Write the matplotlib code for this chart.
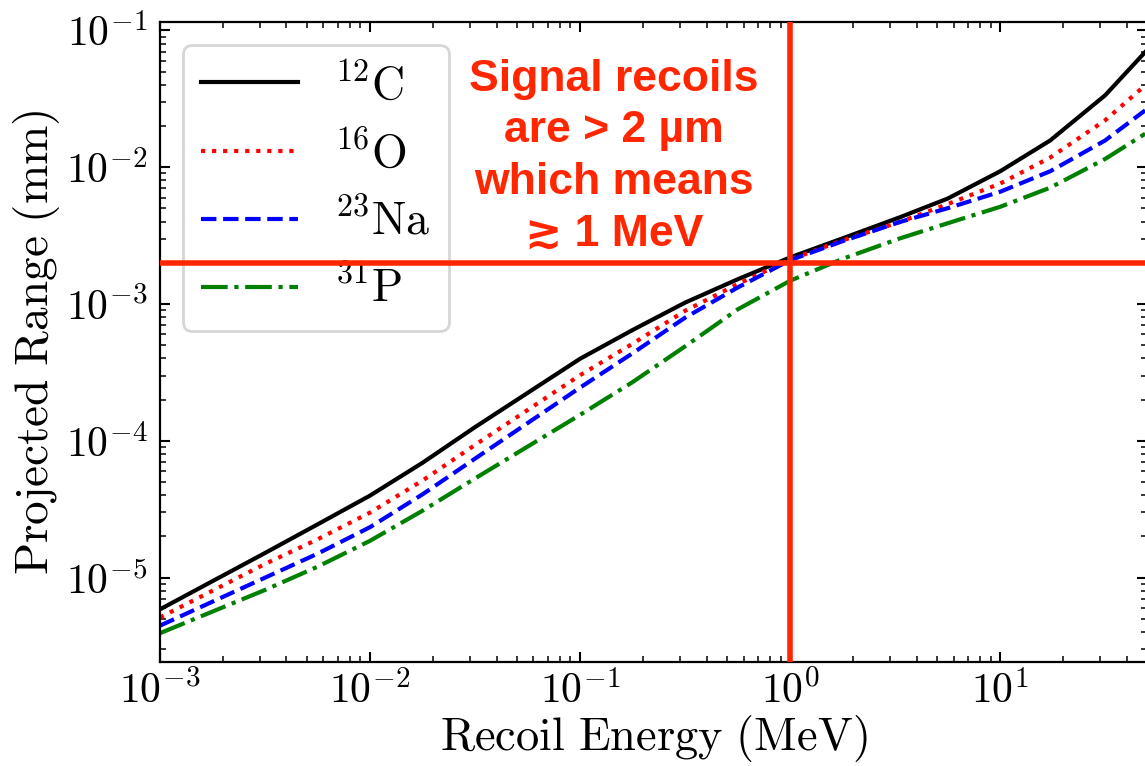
import matplotlib
matplotlib.use("Agg")
import matplotlib.pyplot as plt
from matplotlib.ticker import LogLocator, NullFormatter, FuncFormatter
import numpy as np

plt.rcParams['mathtext.fontset'] = 'cm'

# recoil energy (MeV) and projected range (mm)
energy = [0.001, 0.00316, 0.00562, 0.01, 0.0178, 0.0316, 0.1, 0.178, 0.316, 0.562,
          1.0, 1.78, 3.34, 5.62, 10.0, 17.3, 31.6, 49.0]
range_C = [5.87e-6, 1.514e-5, 2.45e-5, 3.98e-5, 6.92e-5, 1.259e-4, 3.98e-4, 6.46e-4,
           1.023e-3, 1.514e-3, 2.19e-3, 3.02e-3, 4.31e-3, 5.89e-3, 9.33e-3, 1.567e-2,
           3.35e-2, 6.93e-2]
range_O = [5.12e-6, 1.259e-5, 1.905e-5, 2.99e-5, 5.13e-5, 9.33e-5, 3.02e-4, 5.13e-4,
           8.91e-4, 1.396e-3, 2.11e-3, 2.92e-3, 3.98e-3, 5.37e-3, 7.59e-3, 1.175e-2,
           2.20e-2, 3.96e-2]
range_Na = [4.46e-6, 1.0e-5, 1.496e-5, 2.34e-5, 4.07e-5, 7.41e-5, 2.45e-4, 4.37e-4,
            7.94e-4, 1.318e-3, 2.09e-3, 2.88e-3, 3.98e-3, 5.01e-3, 6.61e-3, 9.33e-3,
            1.567e-2, 2.60e-2]
range_P = [3.93e-6, 8.13e-6, 1.202e-5, 1.86e-5, 3.09e-5, 5.31e-5, 1.549e-4, 2.69e-4,
           4.90e-4, 9.12e-4, 1.479e-3, 2.14e-3, 3.02e-3, 3.89e-3, 5.13e-3, 7.08e-3,
           1.148e-2, 1.754e-2]

labels = [r'$^{12}\mathrm{C}$', r'$^{16}\mathrm{O}$', r'$^{23}\mathrm{Na}$', r'$^{31}\mathrm{P}$']
cut_range = 2e-3   # mm
cut_energy = 1.0   # MeV
red = '#FF2600'

fig = plt.figure(figsize=(11.45, 7.66), dpi=100)
ax = fig.add_axes([160 / 1145, 104 / 766, 987 / 1145, 640 / 766])

ax.plot(energy, range_C, color='k', ls='-', lw=3, label=labels[0])
ax.plot(energy, range_O, color='r', ls=':', lw=3, label=labels[1])
ax.plot(energy, range_Na, color='b', ls='--', lw=3, label=labels[2])
ax.plot(energy, range_P, color='g', ls='-.', lw=3, label=labels[3])

ax.axhline(cut_range, color=red, lw=4, zorder=6)
ax.axvline(cut_energy, color=red, lw=4, zorder=6)

ax.set_xscale('log')
ax.set_yscale('log')
ax.set_xlim(1e-3, 50)
ax.set_ylim(2.42e-6, 0.115)

pow_fmt = FuncFormatter(lambda v, pos: r'$10^{%d}$' % int(round(np.log10(v))))
for axis in (ax.xaxis, ax.yaxis):
    axis.set_major_locator(LogLocator(base=10, numticks=20))
    axis.set_major_formatter(pow_fmt)
    axis.set_minor_locator(LogLocator(base=10, subs=range(2, 10), numticks=100))
    axis.set_minor_formatter(NullFormatter())

ax.tick_params(which='both', direction='in', top=True, right=True, labelsize=30)
ax.tick_params(which='major', length=7, width=1.5)
ax.tick_params(which='minor', length=4, width=1.1)
ax.tick_params(axis='x', pad=6)
ax.tick_params(axis='y', pad=9)
for s in ax.spines.values():
    s.set_linewidth(1.6)

ax.set_xlabel(r'$\mathrm{Recoil\ Energy\ (MeV)}$', fontsize=33.5)
ax.set_ylabel(r'$\mathrm{Projected\ Range\ (mm)}$', fontsize=34)
ax.xaxis.set_label_coords(0.5, -0.08)
ax.yaxis.set_label_coords(-0.099, 0.5)

leg = ax.legend(loc='upper left', fontsize=33, handlelength=2.1)
leg.get_frame().set_linewidth(2)

ax.text(0.46, 0.79, 'Signal recoils\nare > 2 µm\nwhich means\n≳ 1 MeV',
        transform=ax.transAxes, ha='center', va='center', multialignment='center',
        color=red, fontsize=32, fontweight='bold',
        family=['Liberation Sans', 'DejaVu Sans'], linespacing=1.33)

fig.savefig('out.png', dpi=100)
